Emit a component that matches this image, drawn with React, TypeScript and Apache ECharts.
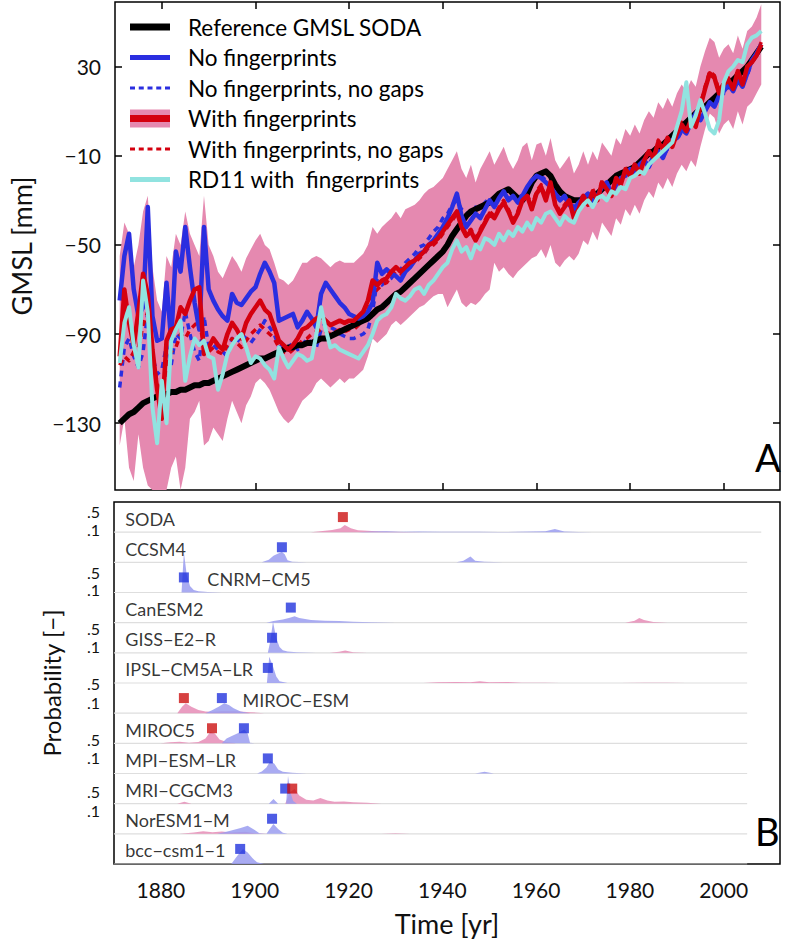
import React, { useEffect, useRef } from "react";
import * as echarts from "echarts";

const FONT = "Lato, 'Open Sans', 'DejaVu Sans', sans-serif";

// ---------- Panel A data (yearly, 1871 ... 2008) ----------
const START_YEAR = 1871;

const SODA_REF = [
  -130, -128, -126, -125, -123, -121, -120, -119, -118, -117,
  -117, -116, -116, -115, -115, -114, -113, -113, -112, -112,
  -111, -110, -109, -108, -107, -106, -105, -104, -103, -102,
  -101, -101, -100, -99, -98, -97, -96, -96, -95, -95,
  -94, -94, -93, -92, -92, -91, -90, -89, -88, -87,
  -86, -85, -84, -83, -81, -79, -78, -76, -74, -72,
  -71, -69, -67, -65, -63, -61, -59, -57, -55, -53,
  -50, -46, -43, -40, -37, -35, -34, -33, -32, -31,
  -29, -27, -26, -25, -27, -29, -30, -27, -22, -19,
  -18, -17, -19, -23, -26, -28, -29, -30, -30, -31,
  -30, -29, -27, -25, -23, -21, -19, -18, -17, -16,
  -15, -13, -11, -9, -8, -6, -5, -3, -1, 1,
  3, 5, 7, 9, 11, 12, 14, 16, 18, 20,
  22, 24, 26, 28, 30, 33, 36, 39,
];

const NO_FP = [
  -75, -55, -45, -70, -82, -78, -33, -82, -93, -92,
  -67, -93, -53, -62, -42, -60, -76, -88, -42, -70,
  -75, -79, -82, -84, -72, -76, -77, -74, -71, -69,
  -63, -58, -62, -67, -84, -83, -82, -81, -87, -84,
  -80, -83, -87, -72, -67, -70, -73, -76, -78, -81,
  -82, -83, -82, -80, -76, -58, -63, -61, -63, -64,
  -66, -62, -60, -57, -54, -53, -50, -48, -45, -42,
  -38, -33, -27, -37, -42, -39, -36, -38, -34, -30,
  -33, -29, -26, -30, -28, -31, -28, -24, -21, -19,
  -20, -22, -24, -27, -30, -28, -32, -34, -31, -29,
  -27, -31, -28, -24, -22, -27, -23, -20, -19, -16,
  -18, -14, -12, -15, -10, -8, -11, -6, -3, -2,
  2, 0, 5, 9, 6, 10, 14, 12, 17, 19,
  22, 19, 24, 21, 27, 33, 36, 40,
];

const NO_FP_NOGAP = [
  -114, -96, -92, -100, -105, -98, -80, -100, -108, -106,
  -95, -104, -90, -92, -80, -90, -98, -102, -82, -96,
  -95, -97, -98, -100, -92, -94, -90, -92, -94, -91,
  -88, -84, -87, -90, -96, -95, -96, -94, -97, -95,
  -92, -94, -96, -88, -85, -87, -88, -90, -91, -92,
  -92, -91, -90, -88, -80, -66, -68, -66, -65, -62,
  -61, -58, -56, -54, -51, -50, -47, -44, -42, -38,
  -36, -32, -30, -34, -36, -35, -33, -34, -31, -29,
  -32, -28, -27, -29, -27, -30, -27, -25, -22, -20,
  -19, -21, -23, -26, -29, -29, -31, -33, -30, -28,
  -28, -30, -27, -25, -23, -26, -22, -21, -18, -17,
  -17, -15, -13, -14, -11, -9, -10, -7, -4, -3,
  1, 1, 4, 8, 7, 11, 13, 13, 16, 18,
  21, 20, 23, 22, 26, 32, 35, 39,
];

const WITH_FP = [
  -100, -70, -85, -95, -80, -63, -72, -97, -115, -128,
  -93, -88, -87, -78, -81, -75, -70, -69, -99, -96,
  -92, -95, -97, -90, -85, -88, -92, -85, -81, -78,
  -75, -79, -81, -87, -93, -95, -97, -95, -92, -88,
  -87, -85, -83, -82, -84, -86, -85, -84, -85, -84,
  -84, -82, -80, -75, -66, -68, -66, -65, -62, -60,
  -62, -60, -58, -57, -55, -53, -50, -49, -47, -44,
  -41, -38, -35, -42, -46, -44, -48, -44, -40, -36,
  -38, -34, -31, -35, -40, -36, -30, -28, -34, -27,
  -24, -30, -22, -32, -36, -33, -30, -38, -34, -28,
  -32, -26, -30, -22, -25, -28, -20, -23, -16, -19,
  -14, -18, -12, -8, -11, -4, -7, -2, -6, 0,
  4, 1, 6, 3, 12, 20, 27, 25, 18, 22,
  24, 20, 28, 22, 30, 32, 35, 40,
];

const WITH_FP_NOGAP = [
  -104, -100, -102, -98, -96, -86, -80, -100, -112, -118,
  -104, -98, -96, -90, -92, -88, -86, -84, -96, -98,
  -96, -98, -99, -95, -92, -94, -96, -93, -90, -88,
  -86, -88, -90, -92, -96, -98, -99, -97, -95, -93,
  -92, -90, -89, -88, -89, -90, -89, -88, -89, -88,
  -88, -86, -84, -80, -72, -70, -68, -67, -64, -62,
  -63, -61, -59, -58, -56, -54, -51, -50, -48, -45,
  -42, -39, -36, -41, -45, -43, -47, -43, -39, -35,
  -37, -33, -30, -34, -39, -35, -29, -27, -33, -26,
  -23, -29, -21, -31, -35, -32, -29, -37, -33, -27,
  -31, -25, -29, -21, -24, -27, -19, -22, -15, -18,
  -13, -17, -11, -7, -10, -3, -6, -1, -5, 1,
  5, 2, 7, 4, 13, 21, 28, 26, 19, 23,
  25, 21, 29, 23, 31, 33, 36, 41,
];

const WITH_FP_HI = [
  -55, -40, -45, -60, -50, -35, -28, -60, -75, -80,
  -55, -60, -45, -50, -35, -45, -50, -55, -28, -50,
  -55, -62, -65, -60, -55, -58, -62, -56, -52, -48,
  -45, -50, -52, -58, -65, -66, -68, -66, -62, -58,
  -58, -56, -55, -56, -58, -60, -58, -57, -58, -58,
  -58, -56, -54, -50, -42, -45, -42, -40, -38, -35,
  -38, -34, -33, -32, -30, -27, -25, -24, -22, -20,
  -16, -12, -8, -16, -20, -14, -22, -16, -12, -8,
  -14, -10, -6, -12, -16, -12, -6, -4, -12, -5,
  -4, -10, -2, -12, -16, -13, -10, -18, -14, -8,
  -14, -8, -12, -4, -7, -10, -2, -5, 2, -1,
  4, 0, 6, 10, 7, 14, 11, 16, 12, 18,
  22, 19, 24, 21, 30, 37, 43, 41, 34, 38,
  40, 36, 44, 38, 46, 48, 52, 58,
];

const WITH_FP_LO = [
  -140, -128, -150, -156, -135, -150, -158, -165, -168, -170,
  -160, -150, -145, -160, -150, -128, -125, -120, -140, -138,
  -132, -135, -138, -128, -120, -125, -130, -122, -118, -112,
  -110, -112, -115, -120, -125, -128, -130, -128, -124, -120,
  -118, -116, -112, -110, -112, -114, -112, -110, -112, -110,
  -110, -108, -106, -100, -92, -94, -92, -90, -86, -84,
  -86, -84, -82, -80, -78, -77, -75, -73, -72, -72,
  -78, -74, -70, -76, -78, -76, -77, -75, -72, -70,
  -58, -62, -60, -63, -65, -62, -60, -58, -56, -55,
  -52, -56, -50, -58, -60, -57, -55, -57, -54, -48,
  -50, -44, -48, -40, -43, -46, -38, -41, -34, -37,
  -32, -36, -30, -26, -29, -22, -25, -20, -24, -18,
  -14, -17, -12, -15, -6, 2, 9, 7, 0, 4,
  6, 2, 10, 4, 12, 14, 18, 22,
];

const RD11 = [
  -103, -85, -78, -95, -105, -66, -80, -123, -139, -111,
  -130, -93, -88, -84, -111, -100, -92, -95, -93, -100,
  -101, -115, -108, -99, -95, -92, -90, -96, -103, -100,
  -101, -104, -106, -110, -96, -101, -105, -102, -99, -100,
  -102, -101, -90, -78, -88, -96, -95, -97, -98, -99,
  -100, -101, -98, -95, -90, -84, -82, -81, -78, -72,
  -74, -75, -73, -70, -69, -72, -68, -66, -63, -60,
  -58, -52, -48, -53, -51, -56, -50, -52, -47, -48,
  -50, -45, -48, -44, -46, -42, -44, -40, -43, -38,
  -40, -36, -35, -38, -41, -37, -39, -40, -35, -32,
  -30, -33, -29, -28, -30, -26, -27, -24, -25, -20,
  -19, -17, -18, -14, -12, -10, -8, -6, -4, 3,
  10, 23, 3, 8, 15, 9, 2, 0, 6, 23,
  28, 30, 33, 32, 40, 43, 44, 46,
];

const GMSL_MIN = -160;
const GMSL_MAX = 59;
const GMSL_TICKS = [-130, -90, -50, -10, 30];
const YEAR_TICKS = [1880, 1900, 1920, 1940, 1960, 1980, 2000];

// ---------- Panel B data ----------
const MODEL_NAMES = [
  "SODA", "CCSM4", "CNRM−CM5", "CanESM2", "GISS−E2−R", "IPSL−CM5A−LR",
  "MIROC−ESM", "MIROC5", "MPI−ESM−LR", "MRI−CGCM3", "NorESM1−M", "bcc−csm1−1",
];
const LABEL_YEAR = [1872.3, 1872.3, 1889.8, 1872.3, 1872.3, 1872.3, 1897.3, 1872.3, 1872.3, 1872.3, 1872.3, 1872.3];
const BASE_END = [2008, 2005, 2005, 2005, 2005, 2005, 2005, 2005, 2005, 2005, 2005, 2005];

const DENS_BLUE: number[][][] = [
  [[1922, 0], [1925, 0.02], [1928, 0.03], [1931, 0.015], [1935, 0.02], [1940, 0.015], [1944, 0.01], [1948, 0.01], [1952, 0.005], [1956, 0.01], [1959, 0.02], [1962, 0.03], [1964, 0.1], [1966, 0.02], [1969, 0.005], [1972, 0]],
  [[1901.5, 0], [1903, 0.08], [1904, 0.2], [1905, 0.27], [1905.8, 0.32], [1906.4, 0.25], [1907, 0.06], [1908, 0.02], [1911, 0], [1943, 0], [1944.5, 0.05], [1946, 0.18], [1947, 0.05], [1949, 0.02], [1951, 0.01], [1953, 0]],
  [[1884.4, 0], [1884.9, 1.23], [1885.5, 0.55], [1886.2, 0.2], [1887, 0.08], [1888, 0.04], [1890, 0.015], [1893, 0]],
  [[1902.5, 0], [1904, 0.05], [1906, 0.1], [1907.5, 0.15], [1908.5, 0.2], [1909.5, 0.14], [1912, 0.08], [1915, 0.06], [1918, 0.05], [1921, 0.03], [1925, 0.01], [1930, 0]],
  [[1902.8, 0], [1903.3, 0.35], [1903.9, 0.95], [1904.6, 0.45], [1905.3, 0.18], [1906, 0.08], [1907, 0.04], [1909, 0.02], [1913, 0]],
  [[1902.6, 0], [1903.1, 0.8], [1903.8, 0.55], [1904.6, 0.2], [1905.3, 0.05], [1907, 0]],
  [[1889.5, 0], [1891, 0.1], [1892.3, 0.2], [1893.5, 0.3], [1894.5, 0.25], [1895.5, 0.15], [1897, 0.05], [1899, 0]],
  [[1893, 0], [1894, 0.15], [1895, 0.22], [1896.5, 0.32], [1897.8, 0.42], [1898.5, 0.3], [1899, 0.02], [1900, 0]],
  [[1900.5, 0], [1901.5, 0.06], [1902.5, 0.18], [1903.3, 0.38], [1904.2, 0.3], [1905, 0.12], [1906, 0.05], [1908, 0.02], [1911, 0], [1947, 0], [1949, 0.05], [1951, 0]],
  [[1903, 0], [1904, 0.14], [1905, 0], [1906.7, 0], [1907.1, 0.85], [1907.6, 0.35], [1908.2, 0.08], [1909, 0]],
  [[1892, 0], [1893.5, 0.05], [1895, 0.1], [1897, 0.18], [1898.5, 0.25], [1900, 0.12], [1901, 0.02], [1902.5, 0], [1903.2, 0.15], [1904, 0.3], [1905, 0.15], [1906, 0.03], [1907, 0]],
  [[1895, 0], [1896.3, 0.25], [1897.5, 0.46], [1898.5, 0.35], [1899.5, 0.18], [1900.5, 0.05], [1902, 0]],
];
const DENS_PINK: number[][][] = [
  [[1912, 0], [1914, 0.03], [1916.5, 0.07], [1918.3, 0.12], [1919.2, 0.22], [1920.5, 0.12], [1922, 0.06], [1924, 0.04], [1927, 0.02], [1932, 0.005], [1936, 0]],
  [],
  [],
  [[1979, 0], [1981, 0.06], [1982, 0.14], [1983, 0.08], [1985, 0.02], [1988, 0]],
  [[1916, 0], [1918, 0.03], [1919.3, 0.07], [1921, 0.02], [1924, 0]],
  [[1936, 0], [1939, 0.02], [1943, 0.03], [1946, 0.02], [1948, 0.05], [1950, 0.02], [1954, 0.03], [1957, 0.01], [1962, 0.005], [1965, 0], [1978, 0], [1983, 0.01], [1988, 0.01], [1992, 0]],
  [[1883.5, 0], [1884.5, 0.2], [1885.3, 0.3], [1886.5, 0.2], [1888, 0.1], [1889.5, 0.05], [1891, 0.04], [1893, 0.06], [1896, 0.06], [1899, 0.03], [1902, 0]],
  [[1880, 0], [1882, 0.03], [1884, 0.05], [1886, 0.02], [1888, 0.04], [1889.5, 0.15], [1890.5, 0.35], [1891.5, 0.3], [1892.5, 0.12], [1894, 0.04], [1896, 0]],
  [],
  [[1883.5, 0], [1885, 0.06], [1886.5, 0], [1906.5, 0], [1907.5, 0.35], [1908.5, 0.45], [1909.5, 0.25], [1911, 0.12], [1912.5, 0.1], [1914, 0.17], [1915.5, 0.1], [1917, 0.06], [1919, 0.07], [1921, 0.04], [1924, 0.03], [1927, 0]],
  [[1884, 0], [1887, 0.04], [1889, 0.08], [1891, 0.05], [1893, 0.07], [1895, 0.04], [1898, 0.06], [1900, 0.02], [1903, 0], [1927, 0], [1930, 0.02], [1933, 0]],
  [],
];
const ONSET_BLUE = [
  [1905.8, 1], [1884.9, 2], [1907.7, 3], [1903.7, 4], [1902.8, 5], [1893.0, 6],
  [1897.7, 7], [1902.8, 8], [1906.5, 9], [1903.7, 10], [1896.9, 11],
];
const ONSET_RED = [[1918.8, 0], [1884.9, 6], [1890.9, 7], [1908.0, 9]];

const PROB_TICKS_HALF = [11.67, 9.67, 7.8, 6.0, 4.14, 2.4];
const PROB_TICKS_TENTH = [11.1, 9.1, 7.2, 5.36, 3.53, 1.76];

// ---------- styles ----------
const C_BLACK = "#000000";
const C_BLUE = "#2a2ee0";
const C_RED = "#d4000f";
const C_PINK = "#e589b0";
const C_CYAN = "#91e3e0";
const C_DBLUE = "#9a9cf0";
const C_DPINK = "#e68cb6";
const ROWS = 12;
const PSCALE = 1.083;

const toXY = (arr: number[]) => arr.map((v, i) => [START_YEAR + i, v]);
const baseOf = (row: number) => ROWS - 1 - row;
const minus = (v: number) => (v < 0 ? "\u2212" + Math.abs(v) : String(v));
const clampY = (v: number) => Math.min(GMSL_MAX, Math.max(GMSL_MIN, v));

function buildOption() {
  const series: any[] = [];
  series.push({
    type: "custom", name: "band", xAxisIndex: 0, yAxisIndex: 0, silent: true, clip: true,
    data: WITH_FP_HI.map((h, i) => [START_YEAR + i, WITH_FP_LO[i], h]),
    encode: { x: 0, y: [1, 2] },
    renderItem: (params: any, api: any) => {
      if (params.dataIndex !== 0) return null;
      const pts: number[][] = [];
      for (let i = 0; i < WITH_FP_HI.length; i++) pts.push(api.coord([START_YEAR + i, clampY(WITH_FP_HI[i])]));
      for (let i = WITH_FP_LO.length - 1; i >= 0; i--) pts.push(api.coord([START_YEAR + i, clampY(WITH_FP_LO[i])]));
      return { type: "polygon", shape: { points: pts }, style: { fill: C_PINK, stroke: "none" } };
    },
    z: 1,
  });
  const line = (name: string, arr: number[], color: string, width: number, dashed = false) => ({
    type: "line", name, xAxisIndex: 0, yAxisIndex: 0, data: toXY(arr), symbol: "none",
    lineStyle: { color, width, type: dashed ? [6, 5] : "solid", cap: "butt", join: "round" },
    itemStyle: { color }, silent: true, z: 2,
  });
  series.push(line("No fingerprints, no gaps", NO_FP_NOGAP, C_BLUE, 3.5, true));
  series.push(line("With fingerprints, no gaps", WITH_FP_NOGAP, C_RED, 3.5, true));
  series.push(line("Reference GMSL SODA", SODA_REF, C_BLACK, 6));
  series.push(line("No fingerprints", NO_FP, C_BLUE, 4.5));
  series.push(line("With fingerprints", WITH_FP, C_RED, 4.5));
  series.push(line("RD11 with  fingerprints", RD11, C_CYAN, 4));

  for (let r = 0; r < ROWS; r++) {
    const b = baseOf(r);
    series.push({
      type: "line", xAxisIndex: 2, yAxisIndex: 2, data: [[1870, b], [BASE_END[r], b]], symbol: "none",
      lineStyle: { color: "#dedede", width: 1.2 }, silent: true, z: 1,
    });
  }
  for (let r = 0; r < ROWS; r++) {
    const b = baseOf(r);
    const mk = (pts: number[][], color: string) => ({
      type: "line", xAxisIndex: 2, yAxisIndex: 2, symbol: "none", silent: true,
      data: pts.map(([x, p]) => [x, b + p * PSCALE]),
      lineStyle: { width: 0, opacity: 0 },
      areaStyle: { origin: b, color, opacity: 0.85 },
    });
    if (DENS_PINK[r].length) series.push(mk(DENS_PINK[r], C_DPINK));
    if (DENS_BLUE[r].length) series.push(mk(DENS_BLUE[r], C_DBLUE));
  }
  series.push({
    type: "scatter", xAxisIndex: 2, yAxisIndex: 2, symbol: "rect", symbolSize: 10, silent: true,
    data: ONSET_BLUE.map(([x, r]) => [x, baseOf(r) + 0.5]), itemStyle: { color: "#2233dd" }, z: 5,
  });
  series.push({
    type: "scatter", xAxisIndex: 2, yAxisIndex: 2, symbol: "rect", symbolSize: 10, silent: true,
    data: ONSET_RED.map(([x, r]) => [x, baseOf(r) + 0.5]), itemStyle: { color: "#cc1111" }, z: 6,
  });
  series.push({
    type: "scatter", xAxisIndex: 2, yAxisIndex: 2, symbolSize: 1, silent: true,
    itemStyle: { color: "transparent" },
    data: MODEL_NAMES.map((n, r) => ({ name: n, value: [LABEL_YEAR[r], baseOf(r) + 0.45] })),
    label: {
      show: true, position: "right", distance: 0, formatter: "{b}",
      fontFamily: FONT, fontSize: 18, color: "#000", lineHeight: 18,
    },
    z: 7,
  });

  const bandIcon = new echarts.graphic.LinearGradient(0, 0, 0, 1, [
    { offset: 0, color: C_PINK }, { offset: 0.31, color: C_PINK },
    { offset: 0.31, color: C_RED }, { offset: 0.69, color: C_RED },
    { offset: 0.69, color: C_PINK }, { offset: 1, color: C_PINK },
  ]);
  const dashIcon = "path://M0,0h5v3h-5z M8.75,0h5v3h-5z M17.5,0h5v3h-5z M26.25,0h5v3h-5z M35,0h5v3h-5z";
  const tickStyle = { color: "#000", width: 1.5 };

  return {
    animation: false,
    backgroundColor: "#ffffff",
    textStyle: { fontFamily: FONT },
    grid: [
      { left: 114, top: 2, width: 666, height: 488, show: true, borderColor: "#000", borderWidth: 1.5, backgroundColor: "transparent" },
      { left: 114, top: 502, width: 666, height: 362, show: true, borderColor: "#000", borderWidth: 1.5, backgroundColor: "transparent" },
    ],
    legend: {
      left: 130, top: 15, orient: "vertical", padding: 0, itemWidth: 40, itemHeight: 18, itemGap: 6.5,
      selectedMode: false, symbolKeepAspect: true,
      itemStyle: { borderWidth: 0 },
      textStyle: { fontFamily: FONT, fontSize: 22.5, color: "#000", lineHeight: 24, padding: [0, 0, 0, 13] },
      data: [
        { name: "Reference GMSL SODA", icon: "path://M0,0h40v7h-40z", itemStyle: { color: C_BLACK } },
        { name: "No fingerprints", icon: "path://M0,0h40v5h-40z", itemStyle: { color: C_BLUE } },
        { name: "No fingerprints, no gaps", icon: dashIcon, itemStyle: { color: C_BLUE } },
        { name: "With fingerprints", icon: "rect", itemStyle: { color: bandIcon } },
        { name: "With fingerprints, no gaps", icon: dashIcon, itemStyle: { color: C_RED } },
        { name: "RD11 with  fingerprints", icon: "path://M0,0h40v5h-40z", itemStyle: { color: C_CYAN } },
      ],
    },
    xAxis: [
      {
        type: "value", gridIndex: 0, min: 1870, max: 2012, position: "bottom",
        axisLine: { show: false, onZero: false }, splitLine: { show: false },
        axisTick: { show: true, inside: true, length: 7, customValues: YEAR_TICKS, lineStyle: tickStyle },
        axisLabel: { show: false },
      },
      {
        type: "value", gridIndex: 0, min: 1870, max: 2012, position: "top",
        axisLine: { show: false, onZero: false }, splitLine: { show: false },
        axisTick: { show: true, inside: true, length: 7, customValues: YEAR_TICKS, lineStyle: tickStyle },
        axisLabel: { show: false },
      },
      {
        type: "value", gridIndex: 1, min: 1870, max: 2012, position: "bottom",
        axisLine: { show: false, onZero: false }, splitLine: { show: false }, axisTick: { show: false },
        axisLabel: {
          show: true, customValues: YEAR_TICKS, formatter: (v: number) => String(v),
          fontFamily: FONT, fontSize: 21, color: "#111", margin: 15,
        },
        name: "Time [yr]", nameLocation: "middle", nameGap: 46,
        nameTextStyle: { fontFamily: FONT, fontSize: 27, color: "#111" },
      },
    ],
    yAxis: [
      {
        type: "value", gridIndex: 0, min: GMSL_MIN, max: GMSL_MAX, position: "left",
        axisLine: { show: false, onZero: false }, splitLine: { show: false },
        axisTick: { show: true, inside: true, length: 7, customValues: GMSL_TICKS, lineStyle: tickStyle },
        axisLabel: {
          show: true, customValues: GMSL_TICKS, formatter: (v: number) => minus(v),
          fontFamily: FONT, fontSize: 21, color: "#111", margin: 14,
        },
        name: "GMSL [mm]", nameLocation: "middle", nameGap: 80, nameRotate: 90,
        nameTextStyle: { fontFamily: FONT, fontSize: 27, color: "#111" },
      },
      {
        type: "value", gridIndex: 0, min: GMSL_MIN, max: GMSL_MAX, position: "right",
        axisLine: { show: false, onZero: false }, splitLine: { show: false },
        axisTick: { show: true, inside: true, length: 7, customValues: GMSL_TICKS, lineStyle: tickStyle },
        axisLabel: { show: false },
      },
      {
        type: "value", gridIndex: 1, min: 0, max: 12, position: "left",
        axisLine: { show: false, onZero: false }, splitLine: { show: false }, axisTick: { show: false },
        axisLabel: {
          show: true, customValues: [...PROB_TICKS_HALF, ...PROB_TICKS_TENTH],
          formatter: (v: number) => (PROB_TICKS_HALF.some((t) => Math.abs(t - v) < 1e-6) ? ".5" : ".1"),
          fontFamily: FONT, fontSize: 16, lineHeight: 14, color: "#111", margin: 14,
        },
        name: "Probability [\u2212]", nameLocation: "middle", nameGap: 51, nameRotate: 90,
        nameTextStyle: { fontFamily: FONT, fontSize: 24, color: "#111" },
      },
    ],
    series,
    graphic: [
      { type: "text", left: 755, top: 438, style: { text: "A", fontFamily: FONT, fontSize: 38, fill: "#000" } },
      { type: "text", left: 755, top: 812, style: { text: "B", fontFamily: FONT, fontSize: 38, fill: "#000" } },
    ],
  };
}

export default function App() {
  const ref = useRef<HTMLDivElement>(null);
  useEffect(() => {
    if (!ref.current) return;
    const chart = echarts.init(ref.current, undefined, { renderer: "svg" });
    chart.setOption(buildOption() as any);
    return () => chart.dispose();
  }, []);
  return (
    <div
      ref={ref}
      style={{ position: "absolute", left: 0, top: 0, width: 796, height: 942, background: "#fff" }}
    />
  );
}
